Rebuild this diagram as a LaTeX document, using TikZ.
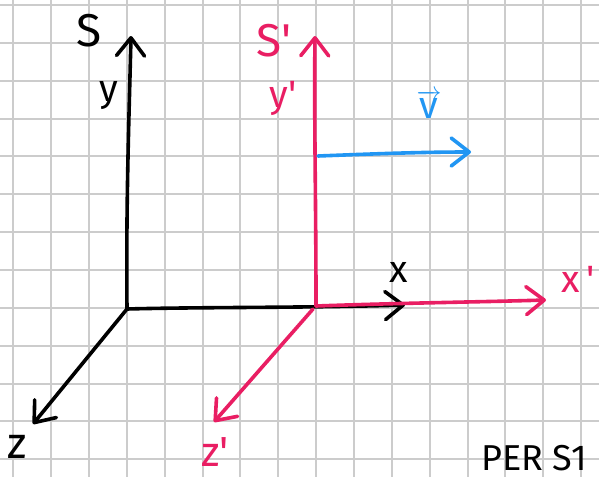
\documentclass[tikz,border=0pt]{standalone}
\usepackage{fontspec}
\setmainfont{Fira Sans}
\usetikzlibrary{arrows.meta}
\definecolor{gridgray}{HTML}{CCCCCC}
\definecolor{penpink}{HTML}{E91E63}
\definecolor{penblue}{HTML}{2196F3}
\tikzset{
  gridline/.style={draw=gridgray,line width=2pt},
  pen/.style={line width=3.6pt,line cap=round,line join=round,
    -{Straight Barb[length=18pt,width=28pt,line cap=round,line join=round]}},
  blackpen/.style={pen,draw=black},
  pinkpen/.style={pen,draw=penpink},
  bluepen/.style={pen,draw=penblue},
  lbl/.style={inner sep=0pt,font=\fontsize{38}{38}\selectfont},
  biglbl/.style={lbl,font=\fontsize{46}{46}\selectfont},
  blacklbl/.style={lbl,text=black},
  pinklbl/.style={lbl,text=penpink},
  bluelbl/.style={lbl,text=penblue},
}
\begin{document}
\begin{tikzpicture}[x=1pt,y=-1pt]
\useasboundingbox (0,0) rectangle (599,477);
\fill[white] (0,0) rectangle (599,477);
% grid
\foreach \k in {0,...,15} \draw[gridline] ({13.3+\k*37.85},0) -- ({13.3+\k*37.85},477);
\foreach \k in {0,...,12} \draw[gridline] (0,{5+\k*37.85}) -- (599,{5+\k*37.85});
% coordinates
\coordinate (O) at (127,309);
\coordinate (ytip) at (131,36);
\coordinate (xtip) at (405,305);
\coordinate (ztip) at (33,424);
\coordinate (Op) at (316,306);
\coordinate (zpstart) at (313,309);
\coordinate (yptip) at (315,36);
\coordinate (xptip) at (546,300);
\coordinate (zptip) at (214,422);
\coordinate (vstart) at (318,156);
\coordinate (vtip) at (471,152);
% black frame S
\draw[blackpen] (O) .. controls (126,200) and (129,120) .. (ytip);
\draw[blackpen] (O) .. controls (200,307) and (300,308) .. (xtip);
\draw[blackpen] (O) -- (ztip);
% pink frame S'
\draw[pinkpen] (Op) .. controls (316,200) and (314,120) .. (yptip);
\draw[pinkpen] (Op) .. controls (400,303) and (480,302) .. (xptip);
\draw[pinkpen] (zpstart) -- (zptip);
% velocity
\draw[bluepen] (vstart) .. controls (370,154) and (420,152) .. (vtip);
% labels
\node[blacklbl,biglbl] (S) at (89,31) {S};
\node[blacklbl] (y) at (109,96) {y};
\node[blacklbl] (x) at (399,272) {x};
\node[blacklbl,font=\fontsize{44}{44}\selectfont] (z) at (17,447) {z};
\node[pinklbl,biglbl] (Sp) at (274,41) {S\textquotesingle};
\node[pinklbl] (yp) at (283,98) {y\textquotesingle};
\node[pinklbl] (xp) at (578,279) {x\,\textquotesingle};
\node[pinklbl,font=\fontsize{42}{42}\selectfont] (zp) at (215,452) {z\textquotesingle};
\node[bluelbl] (v) at (429,104) {$\overrightarrow{\mbox{v}}$};
\node[lbl,text=black,font=\fontsize{36}{36}\selectfont,anchor=base west] (per) at (481,470) {PER S1};
\end{tikzpicture}
\end{document}
